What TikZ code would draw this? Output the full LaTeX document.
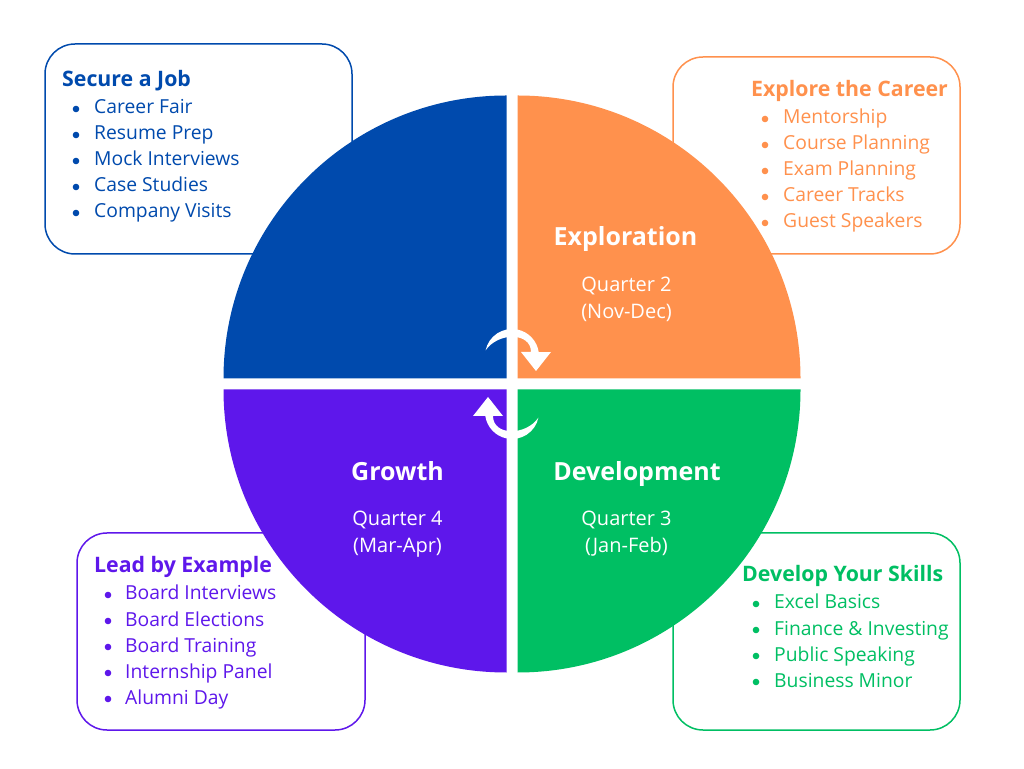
\documentclass[tikz,border=0pt]{standalone}
\usepackage{fontspec}
\setmainfont{Open Sans}
\usetikzlibrary{positioning, calc}
\definecolor{cblue}{HTML}{004AAD}
\definecolor{corange}{HTML}{FF914D}
\definecolor{cgreen}{HTML}{00BF63}
\definecolor{cpurple}{HTML}{5E17EB}
\tikzset{
  listbox/.style={line width=1.5pt, rounded corners=30pt},
  boxtitle/.style={anchor=base west, inner sep=0pt, font=\fontsize{21.3}{25}\selectfont\bfseries},
  listitem/.style={anchor=base west, inner sep=0pt, font=\fontsize{19.3}{23}\selectfont},
  quadtitle/.style={anchor=base, inner sep=0pt, text=white, font=\fontsize{25}{30}\selectfont\bfseries},
  quadtext/.style={anchor=base, inner sep=0pt, text=white, font=\fontsize{20}{24}\selectfont},
}
\begin{document}
\begin{tikzpicture}[x=1pt, y=1pt]
		\useasboundingbox (0,0) rectangle (1024,768);
		\fill[white] (0,0) rectangle (1024,768);
		% boxes behind the pie
		\draw[listbox, cblue] (45,514) rectangle (352,724);
		\draw[listbox, corange] (673,514) rectangle (960,711);
		\draw[listbox, cpurple] (77,38) rectangle (365,235);
		\draw[listbox, cgreen] (673,38) rectangle (960,235);
		% quadrants
		\fill[cblue] (506.5,389.5) -- ++(-283,0) arc[start angle=180, end angle=90, radius=283pt] -- cycle;
		\fill[corange] (517.5,389.5) -- ++(0,283) arc[start angle=90, end angle=0, radius=283pt] -- cycle;
		\fill[cgreen] (517.5,378.5) -- ++(283,0) arc[start angle=0, end angle=-90, radius=283pt] -- cycle;
		\fill[cpurple] (506.5,378.5) -- ++(0,-283) arc[start angle=270, end angle=180, radius=283pt] -- cycle;
		% cycle arrows
		\foreach \a in {0,180} {
			\begin{scope}[shift={(512,384)}, rotate=\a, shift={(0,28)}]
				\fill[white] (168:27) arc[start angle=168, end angle=8, radius=27pt] -- (39,4) -- (24,-15) -- (9,4) -- (19,4)
					.. controls (19,24) and (-14,24) .. (168:27) -- cycle;
			\end{scope}
		}
		% quadrant labels
		\node[quadtitle] (explo) at (625.5,522) {Exploration};
		\node[quadtext] (q2) at (626.5,476) {Quarter 2};
		\node[quadtext] (q2m) at (626.5,449) {(Nov-Dec)};
		\node[quadtitle] (devel) at (637,287) {Development};
		\node[quadtext] (q3) at (626.5,242) {Quarter 3};
		\node[quadtext] (q3m) at (626.5,215) {(Jan-Feb)};
		\node[quadtitle] (growth) at (397.5,287) {Growth};
		\node[quadtext] (q4) at (397.5,242) {Quarter 4};
		\node[quadtext] (q4m) at (397.5,215) {(Mar-Apr)};
		% lists
		\node[boxtitle, text=cblue] (job) at (62,681) {Secure a Job};
		\foreach \txt [count=\i] in {Career Fair, Resume Prep, Mock Interviews, Case Studies, Company Visits} {
			\node[listitem, text=cblue] (job\i) at (94,680-26*\i) {\txt};
			\fill[cblue] (76,685-26*\i) circle (3.3pt);
		}
		\node[boxtitle, text=corange] (career) at (751,671) {Explore the Career};
		\foreach \txt [count=\i] in {Mentorship, Course Planning, Exam Planning, Career Tracks, Guest Speakers} {
			\node[listitem, text=corange] (career\i) at (783,670-26*\i) {\txt};
			\fill[corange] (765,675-26*\i) circle (3.3pt);
		}
		\node[boxtitle, text=cpurple] (lead) at (94,195) {Lead by Example};
		\foreach \txt [count=\i] in {Board Interviews, Board Elections, Board Training, Internship Panel, Alumni Day} {
			\node[listitem, text=cpurple] (lead\i) at (125,194-26*\i) {\txt};
			\fill[cpurple] (108,199-26*\i) circle (3.3pt);
		}
		\node[boxtitle, text=cgreen] (skills) at (742,186) {Develop Your Skills};
		\foreach \txt [count=\i] in {Excel Basics, Finance \& Investing, Public Speaking, Business Minor} {
			\node[listitem, text=cgreen] (skills\i) at (774,185-26*\i) {\txt};
			\fill[cgreen] (756,190-26*\i) circle (3.3pt);
		}
	\end{tikzpicture}
\end{document}
